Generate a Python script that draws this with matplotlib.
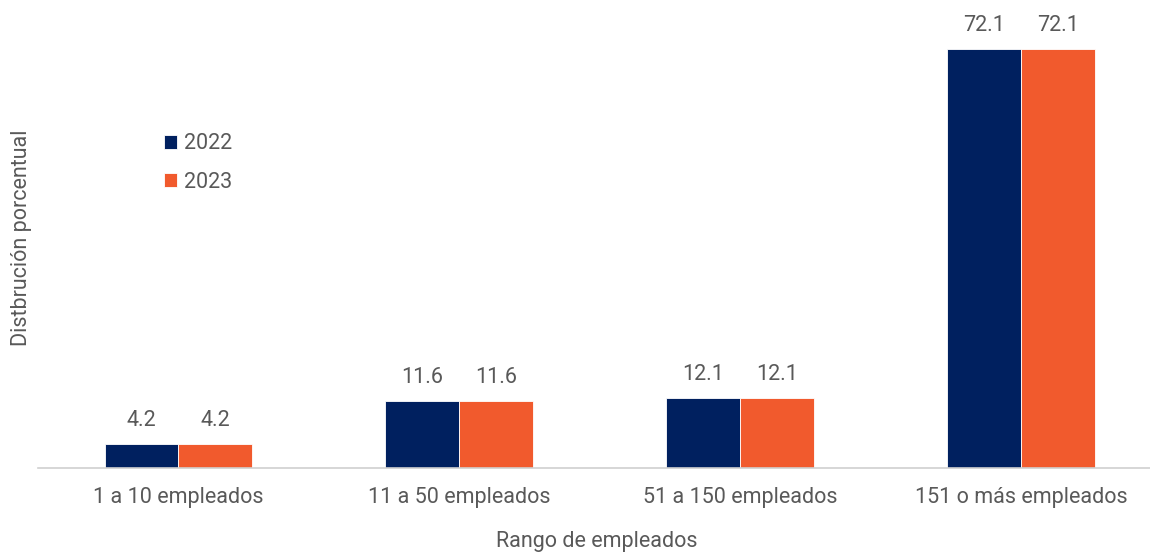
import matplotlib
matplotlib.use("Agg")
import matplotlib.pyplot as plt
import numpy as np

categories = ["1 a 10 empleados", "11 a 50 empleados", "51 a 150 empleados", "151 o más empleados"]
values_2022 = [4.2, 11.6, 12.1, 72.1]
values_2023 = [4.2, 11.6, 12.1, 72.1]
series_names = ["2022", "2023"]
colors = ["#00205f", "#f15a2d"]

plt.rcParams['font.family'] = ['Roboto', 'DejaVu Sans']
txt = "#595959"
fs = 15.5

fig = plt.figure(figsize=(11.5, 5.52), dpi=100)
ax = fig.add_axes([38/1150, 1 - 468/552, 1 - 38/1150, 468/552])

x = np.arange(len(categories))
w = 0.263
for i, (vals, name, c) in enumerate(zip([values_2022, values_2023], series_names, colors)):
    pos = x + (i - 0.5) * w
    bars = ax.bar(pos, vals, width=w, color=c, edgecolor="white", linewidth=0.6, label=name)
    for b, v in zip(bars, vals):
        ax.annotate(f"{v:.1f}", (b.get_x() + b.get_width()/2, v), xytext=(0, 9),
                    textcoords="offset points", ha="center", va="bottom",
                    fontsize=fs, color=txt)

ax.set_xlim(-0.5, 3.46)
ax.set_ylim(0, 80.5)
ax.set_xticks(x)
ax.set_xticklabels(categories, fontsize=fs, color=txt)
ax.tick_params(axis="x", length=0, pad=14)
ax.set_yticks([])
for s in ["top", "right", "left"]:
    ax.spines[s].set_visible(False)
ax.spines["bottom"].set_color("#d0d0d0")
ax.spines["bottom"].set_linewidth(1.2)

fig.text(597/1150, 1 - 541/552, "Rango de empleados", ha="center", va="center",
         fontsize=fs, color=txt)
fig.text(22/1150, 1 - 238/552, "Distbrución porcentual", ha="center", va="center",
         rotation=90, fontsize=fs, color=txt)

leg = ax.legend(loc="upper left", bbox_to_anchor=(107/1112, 1 - 114/468), frameon=False,
                handlelength=0.6, handleheight=0.6, handletextpad=0.3, labelspacing=0.8,
                labelcolor=txt, prop={"size": fs})

fig.savefig("out.png", dpi=100)
